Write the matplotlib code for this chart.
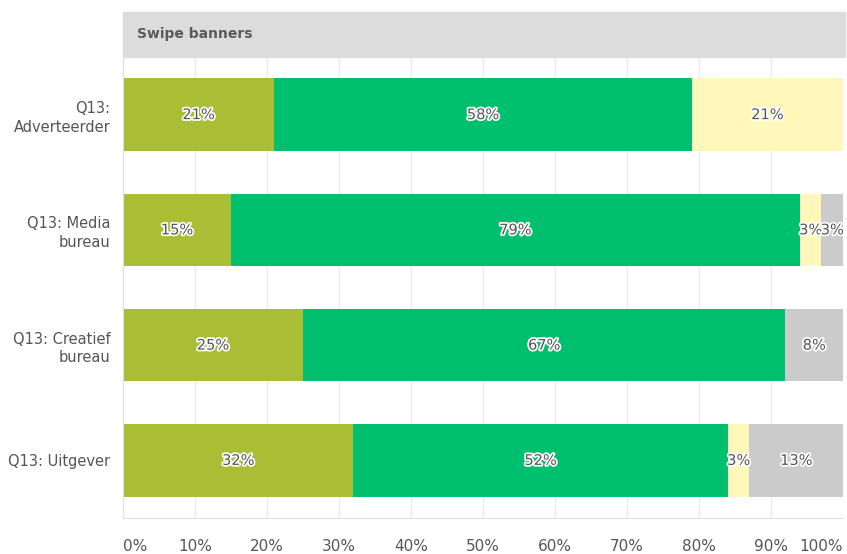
import matplotlib.pyplot as plt
import matplotlib.patheffects as pe
from matplotlib.patches import Rectangle
import numpy as np

# DATA
categories = ['Q13:\nAdverteerder', 'Q13: Media\nbureau', 'Q13: Creatief\nbureau', 'Q13: Uitgever']
olive = [21, 15, 25, 32]
green = [58, 79, 67, 52]
yellow = [21, 3, 0, 3]
grey = [0, 3, 8, 13]
ticks = [0, 10, 20, 30, 40, 50, 60, 70, 80, 90, 100]
title = 'Swipe banners'

series = [olive, green, yellow, grey]
colors = ['#A9BE35', '#00BF6F', '#FFF8BA', '#CBCBCB']

plt.rc('font', family='DejaVu Sans', size=10)

fig = plt.figure(figsize=(8.47, 5.54), dpi=100)
ax = fig.add_axes([123 / 847, 1 - 518 / 554, 720 / 847, 461 / 554])

# header band
fig.patches.append(Rectangle((123 / 847, 1 - 57 / 554), 722 / 847, 45 / 554,
                             transform=fig.transFigure, color='#DCDCDC', zorder=0))
fig.text(137 / 847, 1 - 34 / 554, title, fontsize=10, fontweight='bold',
         color='#5A5A5A', va='center', ha='left')

y = np.arange(len(categories))
left = np.zeros(len(categories))
halo = [pe.withStroke(linewidth=2.5, foreground='white')]
for vals, c in zip(series, colors):
    vals = np.array(vals, dtype=float)
    ax.barh(y, vals, left=left, height=0.63, color=c, zorder=2)
    for yi, l, v in zip(y, left, vals):
        if v > 0:
            ax.text(l + v / 2, yi, f'{int(v)}%', ha='center', va='center',
                    fontsize=10.5, color='#555555', path_effects=halo, zorder=3)
    left += vals

ax.set_xlim(0, 100)
ax.set_ylim(len(categories) - 0.5, -0.5)
ax.set_yticks(y)
ax.set_yticklabels(categories, fontsize=10.5, color='#555555', linespacing=1.3)
ax.set_xticks(ticks)
ax.set_xticklabels([f'{t}%' for t in ticks], fontsize=11, color='#555555')
labels = ax.get_xticklabels()
labels[0].set_ha('left')
labels[-1].set_ha('right')
ax.tick_params(axis='both', length=0)
ax.tick_params(axis='x', pad=15)
ax.tick_params(axis='y', pad=9)

ax.grid(axis='x', color='#EBEBEB', linewidth=1, zorder=0)
ax.set_axisbelow(True)
for s in ['top', 'right']:
    ax.spines[s].set_visible(False)
for s in ['left', 'bottom']:
    ax.spines[s].set_color('#E0E0E0')

fig.savefig('out.png', dpi=100)
